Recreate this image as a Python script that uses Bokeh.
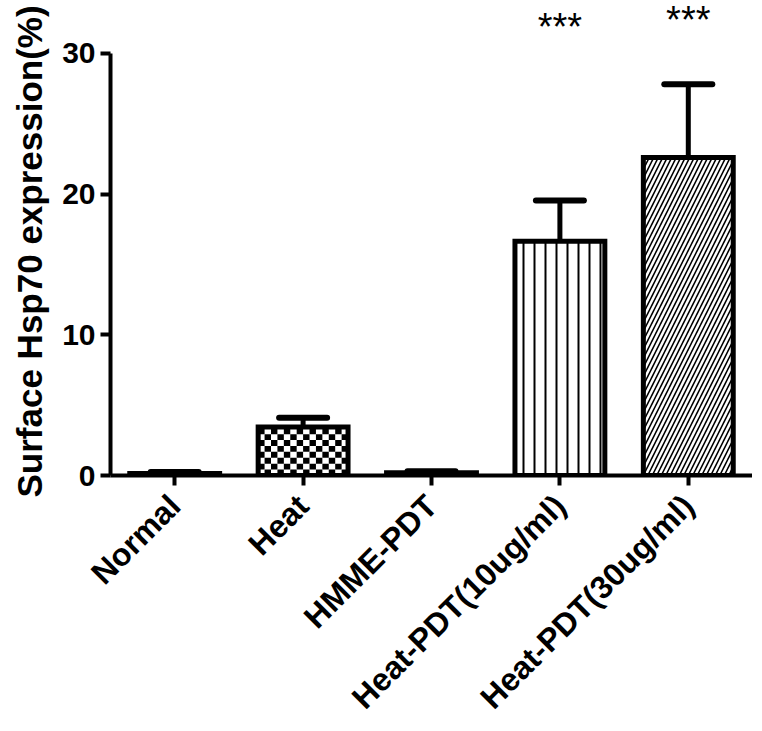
import math
from bokeh.plotting import figure
from bokeh.models import Range1d, ColumnDataSource, Whisker, TeeHead, FixedTicker, Title
from bokeh.core.properties import value
from bokeh.embed import file_html
from bokeh.resources import INLINE

groups = ["Normal", "Heat", "HMME-PDT", "Heat-PDT(10ug/ml)", "Heat-PDT(30ug/ml)"]
means = [0.15, 3.45, 0.2, 16.65, 22.6]
errors = [0.1, 0.65, 0.1, 2.9, 5.2]
stars = ["***", "***"]
star_groups = ["Heat-PDT(10ug/ml)", "Heat-PDT(30ug/ml)"]
star_y = [31.85, 32.35]
y_ticks = [0, 10, 20, 30]
fills = ["blank", "checker", "blank", "vertical_line", "right_diagonal_line"]
y_title = "Surface Hsp70 expression(%)"

FONT = "Liberation Sans"
BAR_W = 0.7

xs = [i + 0.5 for i in range(len(groups))]

p = figure(x_range=Range1d(0, len(groups)), y_range=Range1d(0, 33.76),
           width=752, height=731, output_backend="svg", toolbar_location=None,
           min_border_left=106, min_border_right=0, min_border_top=0, min_border_bottom=256)
p.outline_line_color = None
p.grid.grid_line_color = None

# bars (white fill, with line hatches)
scales = {"vertical_line": 11, "right_diagonal_line": 9}
weights = {"vertical_line": 2, "right_diagonal_line": 1.6}
for i, g in enumerate(groups):
    pat = fills[i] if fills[i] in scales else "blank"
    p.vbar(x=[xs[i]], top=[means[i]], bottom=0, width=BAR_W, fill_color="white",
           line_color=None, hatch_pattern=pat, hatch_color="black",
           hatch_scale=scales.get(pat, 10), hatch_weight=weights.get(pat, 1))

# checker fill for the "Heat" bar, derived from its value and width
for i, g in enumerate(groups):
    if fills[i] != "checker":
        continue
    ncols = 14
    cw = BAR_W / ncols
    ch = 0.42
    nrows = int(math.ceil(means[i] / ch))
    L, R, B, T = [], [], [], []
    for r in range(nrows):
        for c in range(ncols):
            if (r + c) % 2 == 1:
                left = xs[i] - BAR_W / 2 + c * cw
                L.append(left)
                R.append(left + cw)
                B.append(r * ch)
                T.append(min((r + 1) * ch, means[i]))
    p.quad(left=L, right=R, bottom=B, top=T, fill_color="black", line_color=None)

# bar outlines
p.vbar(x=xs, top=means, bottom=0, width=BAR_W, fill_color=None,
       line_color="black", line_width=5, line_join="miter")

tops = [m + e for m, e in zip(means, errors)]
src = ColumnDataSource(dict(x=xs, top=means, upper=tops))
w = Whisker(base="x", upper="upper", lower="top", source=src, line_width=5, line_color="black",
            upper_head=TeeHead(size=48, line_width=6, line_color="black", line_cap="round"),
            lower_head=None)
p.add_layout(w)

star_x = [xs[groups.index(g)] for g in star_groups]
p.text(x=star_x, y=star_y, text=stars, text_align="center", text_baseline="alphabetic",
       text_font=value(FONT), text_font_size="38px", text_color="black")

p.yaxis.bounds = (0, 30)
p.yaxis.ticker = FixedTicker(ticks=y_ticks)
p.yaxis.minor_tick_line_color = None
p.yaxis.major_tick_in = 0
p.yaxis.major_tick_out = 10
p.yaxis.axis_line_width = 4
p.yaxis.major_tick_line_width = 4
p.yaxis.major_label_standoff = 5
p.yaxis.major_label_text_font_size = "30px"

ytitle = Title(text=y_title, align="left", offset=-22, vertical_align="top",
               text_font=FONT, text_font_style="bold", text_font_size="35px",
               text_color="black", standoff=18)
p.add_layout(ytitle, "left")

p.xaxis.ticker = FixedTicker(ticks=xs)
p.xaxis.major_label_overrides = {x: g for x, g in zip(xs, groups)}
p.xaxis.minor_tick_line_color = None

for ax in [p.xaxis, p.yaxis]:
    ax.major_label_text_font = FONT
    ax.major_label_text_font_style = "bold"
    ax.major_label_text_color = "black"
    ax.axis_line_color = "black"
    ax.major_tick_line_color = "black"
p.xaxis.major_label_text_font_size = "32px"

p.xaxis.axis_line_width = 4
p.xaxis.major_tick_line_width = 4
p.xaxis.major_tick_in = 0
p.xaxis.major_tick_out = 10
p.xaxis.major_label_orientation = math.pi / 4
p.xaxis.major_label_standoff = 15

open("out.html", "w").write(file_html(p, INLINE))
